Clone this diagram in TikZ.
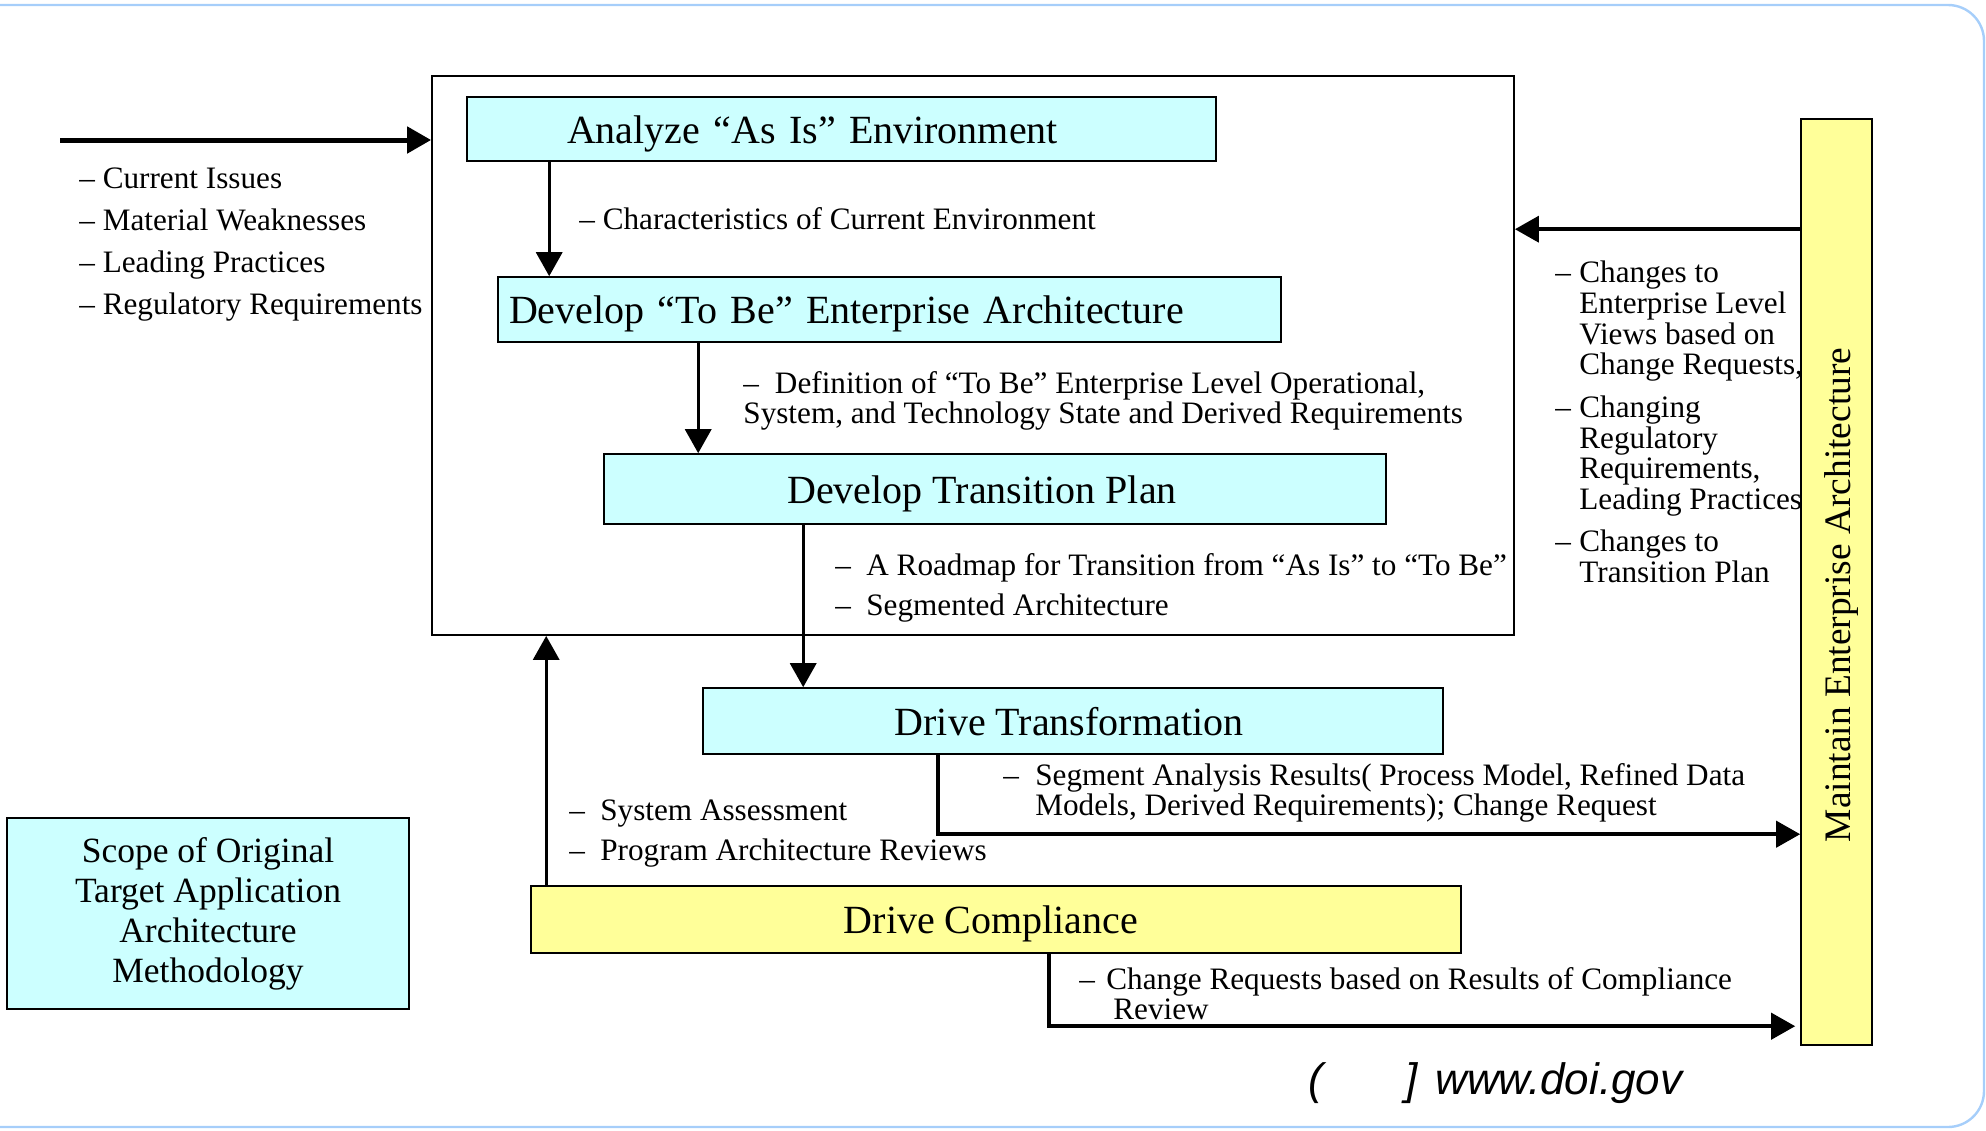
\documentclass[tikz,border=0pt]{standalone}
\usepackage{fontspec}
\setmainfont{Liberation Serif}
\newfontfamily\urlfont{Liberation Sans}
\usetikzlibrary{arrows.meta,calc}
\definecolor{StepCyan}{HTML}{CCFFFF}
\definecolor{StepYellow}{HTML}{FFFF99}
\definecolor{FrameBlue}{HTML}{A6CEFA}

\begin{document}
\begin{tikzpicture}[x=0.5pt,y=-0.5pt,
    stepbox/.style={draw=black,line width=0.8pt,fill=StepCyan,inner sep=0pt,
      font=\fontsize{20}{22}\selectfont},
    oneline/.style={text height=15.5pt,text depth=1.1pt},
    note/.style={inner sep=0pt,align=left,anchor=west,
      font=\fontsize{15.6}{15.35}\selectfont},
    flow/.style={line width=1.7pt,-{Triangle[length=12pt,width=13pt]}}
  ]
  \useasboundingbox (0,0) rectangle (1986,1130);
  \draw[FrameBlue,line width=1.2pt,rounded corners=18pt]
    (-20,5) -- (1984,5) -- (1984,1127) -- (-20,1127);

  % process steps
  \node[draw=black,line width=0.9pt,minimum width=541pt,minimum height=279.5pt]
    (env) at (973,355.5) {};
  \node[stepbox,oneline,align=left,text width=274.5pt,inner xsep=50pt,minimum height=32pt]
    (asis) at (841.5,129) {Analyze “As Is” Environment};
  \node[stepbox,oneline,align=left,text width=380.5pt,inner xsep=5.5pt,minimum height=32.5pt]
    (tobe) at (889.5,309.5) {Develop “To Be” Enterprise Architecture};
  \node[stepbox,oneline,minimum width=391pt,minimum height=35pt]
    (plan) at (995,489) {Develop Transition Plan\hspace*{13pt}};
  \node[stepbox,oneline,minimum width=370pt,minimum height=33pt]
    (xform) at (1073,721) {Drive Transformation\hspace*{4pt}};
  \node[stepbox,oneline,fill=StepYellow,minimum width=465pt,minimum height=33.5pt]
    (comply) at (996,919.5) {Drive Compliance\hspace*{5pt}};
  \node[stepbox,fill=StepYellow,rotate=90,minimum width=463pt,minimum height=35.5pt,
    text height=14.5pt,text depth=1pt,font=\fontsize{18.7}{21}\selectfont]
    (maint) at (1836.5,582) {Maintain Enterprise Architecture\hspace*{13pt}};
  \node[stepbox,align=center,minimum width=201pt,minimum height=95.5pt,
    font=\fontsize{17.75}{20}\selectfont]
    (scope) at (208,913.5) {Scope of Original\\Target Application\\Architecture\\Methodology};

  % flow labels
  \node[note,font=\fontsize{15.6}{21.15}\selectfont] (inputs) at (79,244.5)
    {– Current Issues\\– Material Weaknesses\\– Leading Practices\\– Regulatory Requirements};
  \node[note] (chars) at (579,219) {– Characteristics of Current Environment};
  \node[note,font=\fontsize{15.6}{15}\selectfont] (defn) at (743,401)
    {–\hspace{8pt}Definition of “To Be” Enterprise Level Operational,\\System, and Technology State and Derived Requirements};
  \node[note,font=\fontsize{15.6}{20}\selectfont] (roadmap) at (835,588)
    {\makebox[15.5pt][l]{–}A Roadmap for Transition from “As Is” to “To Be”\\\makebox[15.5pt][l]{–}Segmented Architecture};
  \node[note,font=\fontsize{15.6}{15}\selectfont] (segment) at (1003,793)
    {\makebox[16pt][l]{–}Segment Analysis Results( Process Model, Refined Data\\\hspace*{16pt}Models, Derived Requirements); Change Request};
  \node[note,font=\fontsize{15.6}{20}\selectfont] (assess) at (569,834)
    {\makebox[15.5pt][l]{–}System Assessment\\\makebox[15.5pt][l]{–}Program Architecture Reviews};
  \node[note,font=\fontsize{15.6}{15}\selectfont] (compreq) at (1079,994)
    {\makebox[13.5pt][l]{–}Change Requests based on Results of Compliance\\\hspace*{17pt}Review};
  \node[note] (changes) at (1555,422)
    {\makebox[12pt][l]{–}Changes to\\\hspace*{12pt}Enterprise Level\\\hspace*{12pt}Views based on\\\hspace*{12pt}Change Requests,\\[5.9pt]
     \makebox[12pt][l]{–}Changing\\\hspace*{12pt}Regulatory\\\hspace*{12pt}Requirements,\\\hspace*{12pt}Leading Practices\\[5.9pt]
     \makebox[12pt][l]{–}Changes to\\\hspace*{12pt}Transition Plan};
  \node[inner sep=0pt,anchor=west,font=\urlfont\itshape\fontsize{22}{24}\selectfont]
    (source) at (1308,1083) {(\hspace{41pt}]\hspace{9pt}www.doi.gov};

  % connectors
  \coordinate (issues) at (60,140);
  \draw[flow,line width=2.5pt] (issues) -- (issues -| env.west);
  \draw[flow] ($(asis.south west)+(83,0)$) coordinate (a1) -- (a1 |- tobe.north);
  \draw[flow] ($(tobe.south west)+(201,0)$) coordinate (a2) -- (a2 |- plan.north);
  \draw[flow] ($(plan.south west)+(200,0)$) coordinate (a3) -- (a3 |- xform.north);
  \draw[flow] ($(comply.north west)+(16,0)$) coordinate (a4) -- (a4 |- env.south);
  \draw[flow,line width=2pt] ($(xform.south west)+(236,0)$)
    |- ($(maint.north east)+(0,716)$);
  \draw[flow,line width=2pt] ($(comply.south west)+(519,0)$)
    |- ($(maint.north east)+(-5,908)$);
  \draw[flow,line width=1.9pt] ($(maint.north east)+(0,111)$) coordinate (a5) -- (a5 -| env.east);
\end{tikzpicture}
\end{document}
